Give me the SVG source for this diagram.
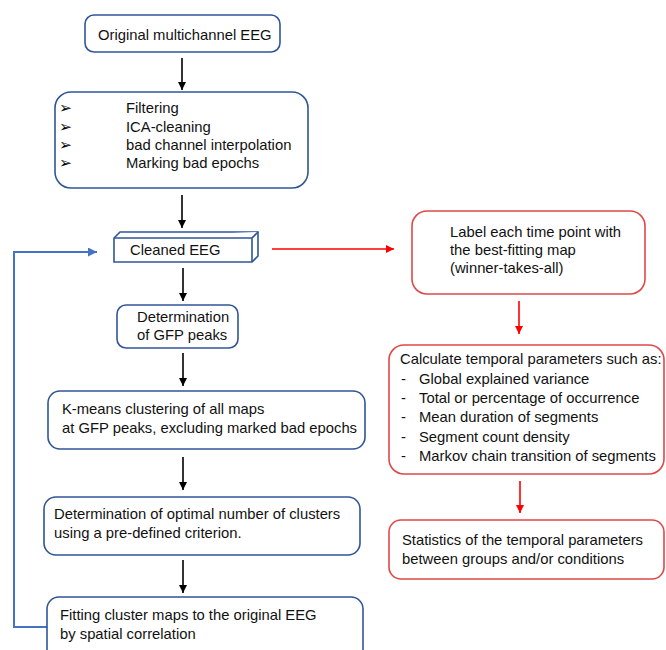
<svg xmlns="http://www.w3.org/2000/svg" width="666" height="650" viewBox="0 0 666 650">
<style>
text{font-family:"Liberation Sans",Arial,sans-serif;font-size:14.8px;fill:#111}
text.bul{font-family:"DejaVu Sans","Noto Sans",sans-serif;font-size:15.5px;font-weight:bold;fill:#000}
.bb{fill:#fff;stroke:#2F5597;stroke-width:1.6}
.rb{fill:#fff;stroke:#E04848;stroke-width:1.6}
.k{stroke:#000;stroke-width:1.6;fill:none}
.r{stroke:#FF0000;stroke-width:1.6;fill:none}
.bl{stroke:#4472C4;stroke-width:2;fill:none}
</style>
<defs>
<marker id="ak" viewBox="0 0 10 10" refX="10" refY="5" markerWidth="5" markerHeight="5" orient="auto" markerUnits="strokeWidth"><path d="M0,0L10,5L0,10z" fill="#000"/></marker>
<marker id="ar" viewBox="0 0 10 10" refX="10" refY="5" markerWidth="5" markerHeight="5" orient="auto" markerUnits="strokeWidth"><path d="M0,0L10,5L0,10z" fill="#FF0000"/></marker>
<marker id="ab" viewBox="0 0 10 10" refX="10" refY="5" markerWidth="4.5" markerHeight="4.5" orient="auto" markerUnits="strokeWidth"><path d="M0,0L10,5L0,10z" fill="#4472C4"/></marker>
</defs>
<g id="connectors">
<line class="k" x1="182" y1="58" x2="182" y2="90" marker-end="url(#ak)"/>
<line class="k" x1="182" y1="195" x2="182" y2="228" marker-end="url(#ak)"/>
<line class="k" x1="183" y1="268" x2="183" y2="301" marker-end="url(#ak)"/>
<line class="k" x1="183" y1="353" x2="183" y2="386" marker-end="url(#ak)"/>
<line class="k" x1="183" y1="457" x2="183" y2="490" marker-end="url(#ak)"/>
<line class="k" x1="183" y1="560" x2="183" y2="593" marker-end="url(#ak)"/>
<polyline class="bl" points="47,627 14,627 14,252 97,252" marker-end="url(#ab)"/>
<line class="r" x1="272" y1="249" x2="394" y2="249" marker-end="url(#ar)"/>
<line class="r" x1="519" y1="301" x2="519" y2="334" marker-end="url(#ar)"/>
<line class="r" x1="520" y1="481" x2="520" y2="513" marker-end="url(#ar)"/>
</g>
<g id="original">
<rect class="bb" x="85" y="15" width="195" height="37" rx="9"/>
<text x="98" y="40">Original multichannel EEG</text>
</g>
<g id="preprocessing">
<rect class="bb" x="55" y="92" width="253" height="96" rx="16"/>
<text class="bul" x="59" y="113">➢</text><text x="126" y="113">Filtering</text>
<text class="bul" x="59" y="132">➢</text><text x="126" y="132">ICA-cleaning</text>
<text class="bul" x="59" y="150">➢</text><text x="126" y="150">bad channel interpolation</text>
<text class="bul" x="59" y="168">➢</text><text x="126" y="168">Marking bad epochs</text>
</g>
<g id="cleaned">
<path class="bb" d="M114,238 L120,232 L258,232 L258,256 L252,262 L114,262 Z"/>
<path class="bb" d="M114,238 L252,238 L258,232 M252,238 L252,262" fill="none"/>
<text x="130" y="255">Cleaned EEG</text>
</g>
<g id="gfp">
<rect class="bb" x="117" y="305" width="121" height="43" rx="9"/>
<text x="137" y="322">Determination</text>
<text x="137" y="340">of GFP peaks</text>
</g>
<g id="kmeans">
<rect class="bb" x="48" y="391" width="317" height="58" rx="12"/>
<text x="62" y="414">K-means clustering of all maps</text>
<text x="62" y="433">at GFP peaks, excluding marked bad epochs</text>
</g>
<g id="optimal">
<rect class="bb" x="44" y="497" width="316" height="58" rx="12"/>
<text x="54" y="519">Determination of optimal number of clusters</text>
<text x="54" y="538">using a pre-defined criterion.</text>
</g>
<g id="fitting">
<rect class="bb" x="47" y="597" width="316" height="70" rx="12"/>
<text x="60" y="620">Fitting cluster maps to the original EEG</text>
<text x="60" y="639">by spatial correlation</text>
</g>
<g id="label">
<rect class="rb" x="412" y="211" width="233" height="83" rx="15"/>
<text x="450" y="237">Label each time point with</text>
<text x="450" y="255">the best-fitting map</text>
<text x="450" y="273">(winner-takes-all)</text>
</g>
<g id="calculate">
<rect class="rb" x="389" y="345" width="275" height="129" rx="15"/>
<text x="400" y="364">Calculate temporal parameters such as:</text>
<text x="401" y="384">-</text><text x="419" y="384">Global explained variance</text>
<text x="401" y="403">-</text><text x="419" y="403">Total or percentage of occurrence</text>
<text x="401" y="422">-</text><text x="419" y="422">Mean duration of segments</text>
<text x="401" y="442">-</text><text x="419" y="442">Segment count density</text>
<text x="401" y="461">-</text><text x="419" y="461">Markov chain transition of segments</text>
</g>
<g id="statistics">
<rect class="rb" x="389" y="520" width="275" height="59" rx="12"/>
<text x="402" y="545">Statistics of the temporal parameters</text>
<text x="402" y="564">between groups and/or conditions</text>
</g>
</svg>
